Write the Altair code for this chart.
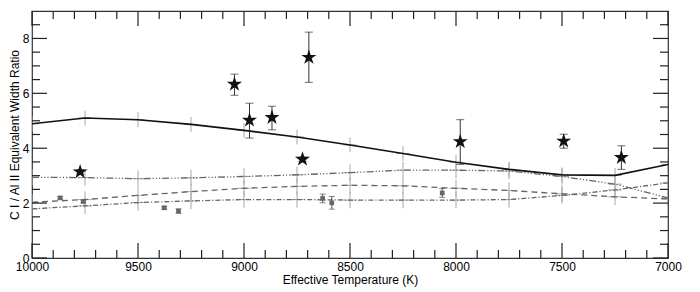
import altair as alt
import pandas as pd

# ---- data ----
model_T = [10000, 9750, 9500, 9250, 9000, 8750, 8500, 8250, 8000, 7750, 7500, 7250, 7000]
model_solid = [4.89, 5.10, 5.04, 4.87, 4.65, 4.41, 4.12, 3.81, 3.49, 3.23, 3.03, 3.01, 3.41]
model_ddd = [2.94, 2.93, 2.89, 2.92, 2.97, 3.03, 3.11, 3.20, 3.20, 3.17, 2.97, 2.69, 2.19]
model_dash = [2.03, 2.13, 2.28, 2.42, 2.54, 2.61, 2.65, 2.63, 2.54, 2.46, 2.34, 2.23, 2.15]
model_dashdot = [1.79, 1.90, 2.02, 2.08, 2.13, 2.13, 2.11, 2.11, 2.11, 2.13, 2.28, 2.48, 2.74]
model_err = [0.27, 0.3, 0.3, 0.3]      # vertical half-length of model crosshairs
model_terr = 32                        # horizontal half-length (K)

star_T = [9773, 9045, 8974, 8868, 8724, 8694, 7980, 7492, 7220]
star_v = [3.14, 6.33, 5.02, 5.12, 3.60, 7.31, 4.24, 4.26, 3.66]
star_lo = [3.06, 5.93, 4.37, 4.67, 3.52, 6.40, 3.41, 4.00, 3.23]
star_hi = [3.22, 6.70, 5.64, 5.53, 3.68, 8.23, 5.04, 4.51, 4.09]

sq_T = [9867, 9758, 9376, 9309, 8629, 8586, 8065]
sq_v = [2.19, 2.06, 1.83, 1.71, 2.17, 2.01, 2.37]
sq_err = [0.05, 0.05, 0.05, 0.08, 0.16, 0.23, 0.16]

x_labels = [10000, 9500, 9000, 8500, 8000, 7500, 7000]
y_labels = [0, 2, 4, 6, 8]
x_minor = [t for t in range(7100, 10000, 100) if t % 500 != 0]
y_minor = [i * 0.5 for i in range(1, 18) if (i * 0.5) % 2 != 0]

X_MIN, X_MAX, Y_MIN, Y_MAX = 7000, 10000, 0, 9
W, H = 636, 247
FONT = "Liberation Sans"
STAR = ("M0,-1L0.2245,-0.309L0.951,-0.309L0.363,0.118L0.588,0.809L0,0.382"
        "L-0.588,0.809L-0.363,0.118L-0.951,-0.309L-0.2245,-0.309Z")

xscale = alt.Scale(domain=[X_MIN, X_MAX], reverse=True, nice=False, zero=False)
yscale = alt.Scale(domain=[Y_MIN, Y_MAX], nice=False, zero=False)
xaxis = alt.Axis(orient="bottom", values=x_labels, format="d", ticks=False, domain=False, grid=False,
                 labelFont=FONT, labelFontSize=12, labelColor="black", labelPadding=3,
                 labelFlush=False, title="Effective Temperature (K)", titleFont=FONT,
                 titleFontSize=12, titleFontWeight="normal", titleColor="black", titlePadding=2)
yaxis = alt.Axis(orient="left", values=y_labels, ticks=False, domain=False, grid=False,
                 labelFont=FONT, labelFontSize=12, labelColor="black", labelPadding=3,
                 labelFlush=False, title="C I / Al II Equivalent Width Ratio", titleFont=FONT,
                 titleFontSize=12, titleFontWeight="normal", titleColor="black", titlePadding=1)
X = alt.X("T:Q", scale=xscale, axis=xaxis)
Y = alt.Y("v:Q", scale=yscale, axis=yaxis)

# model tables
series = [("solid", model_solid), ("ddd", model_ddd), ("dash", model_dash), ("dashdot", model_dashdot)]
rows = []
for (name, vals), e in zip(series, model_err):
    for t, v in zip(model_T, vals):
        rows.append(dict(s=name, T=t, v=v, lo=v - e, hi=v + e, Tl=t - model_terr, Th=t + model_terr))
mdf = pd.DataFrame(rows)

cross_v = alt.Chart(mdf).mark_rule(color="#a8a8a8", strokeWidth=1, clip=True).encode(
    x=X, y=alt.Y("lo:Q", scale=yscale, axis=yaxis), y2="hi:Q")
cross_h = alt.Chart(mdf).mark_rule(color="#a8a8a8", strokeWidth=1, clip=True).encode(
    x=alt.X("Tl:Q", scale=xscale, axis=xaxis), x2="Th:Q", y=Y)

styles = {
    "solid": dict(color="#111111", strokeWidth=1.6),
    "ddd": dict(color="#666666", strokeWidth=1.3, strokeDash=[7, 2, 1.2, 2, 1.2, 2, 1.2, 2]),
    "dash": dict(color="#666666", strokeWidth=1.3, strokeDash=[6, 4]),
    "dashdot": dict(color="#666666", strokeWidth=1.3, strokeDash=[5, 2, 1.2, 2]),
}
lines = [alt.Chart(mdf[mdf.s == n]).mark_line(clip=True, **styles[n]).encode(x=X, y=Y)
         for n, _ in series]

sdf = pd.DataFrame(dict(T=star_T, v=star_v, lo=star_lo, hi=star_hi))
star_err = alt.Chart(sdf).mark_rule(color="#333333", strokeWidth=1).encode(
    x=X, y=alt.Y("lo:Q", scale=yscale, axis=yaxis), y2="hi:Q")
star_cap_lo = alt.Chart(sdf).mark_tick(color="#333333", orient="horizontal", size=8, thickness=1).encode(
    x=X, y=alt.Y("lo:Q", scale=yscale, axis=yaxis))
star_cap_hi = alt.Chart(sdf).mark_tick(color="#333333", orient="horizontal", size=8, thickness=1).encode(
    x=X, y=alt.Y("hi:Q", scale=yscale, axis=yaxis))
stars = alt.Chart(sdf).mark_point(shape=STAR, filled=True, size=250, color="#111111", opacity=1).encode(x=X, y=Y)

qdf = pd.DataFrame(dict(T=sq_T, v=sq_v, e=sq_err))
qdf["lo"] = qdf.v - qdf.e
qdf["hi"] = qdf.v + qdf.e
sq_errbar = alt.Chart(qdf).mark_rule(color="#555555", strokeWidth=1).encode(
    x=X, y=alt.Y("lo:Q", scale=yscale, axis=yaxis), y2="hi:Q")
sq_cap_lo = alt.Chart(qdf).mark_tick(color="#555555", orient="horizontal", size=6, thickness=1).encode(
    x=X, y=alt.Y("lo:Q", scale=yscale, axis=yaxis))
sq_cap_hi = alt.Chart(qdf).mark_tick(color="#555555", orient="horizontal", size=6, thickness=1).encode(
    x=X, y=alt.Y("hi:Q", scale=yscale, axis=yaxis))
squares = alt.Chart(qdf).mark_point(shape="square", filled=True, size=22, color="#666666", opacity=1).encode(x=X, y=Y)

# inward frame ticks: each tick is a two-point line (lengths in px converted to data units)
MAJ, MIN = 15, 8
ux = (X_MAX - X_MIN) / W
uy = (Y_MAX - Y_MIN) / H
lrows = []
k = 0
for vals, L in ((x_labels, MAJ), (x_minor, MIN)):
    for t in vals:
        for base, sgn in ((Y_MIN, 1), (Y_MAX, -1)):
            lrows.append(dict(id=k, T=t, v=base))
            lrows.append(dict(id=k, T=t, v=base + sgn * L * uy))
            k += 1
for vals, L in ((y_labels, MAJ), (y_minor, MIN)):
    for v in vals:
        for base, sgn in ((X_MAX, -1), (X_MIN, 1)):
            lrows.append(dict(id=k, T=base, v=v))
            lrows.append(dict(id=k, T=base + sgn * L * ux, v=v))
            k += 1
ldf = pd.DataFrame(lrows)
tick_lines = alt.Chart(ldf).mark_line(color="#222222", strokeWidth=1.2).encode(
    x=X, y=Y, detail="id:N")

chart = alt.layer(
    cross_v, cross_h, *lines, sq_errbar, sq_cap_lo, sq_cap_hi, squares,
    star_err, star_cap_lo, star_cap_hi, stars, tick_lines
).properties(
    width=W, height=H, padding={"left": 0, "top": 0, "right": 0, "bottom": 2},
    background="white"
).configure_view(stroke="#333333", strokeWidth=1.2)

chart.save("out.html", embed_options={"renderer": "svg", "actions": False})
